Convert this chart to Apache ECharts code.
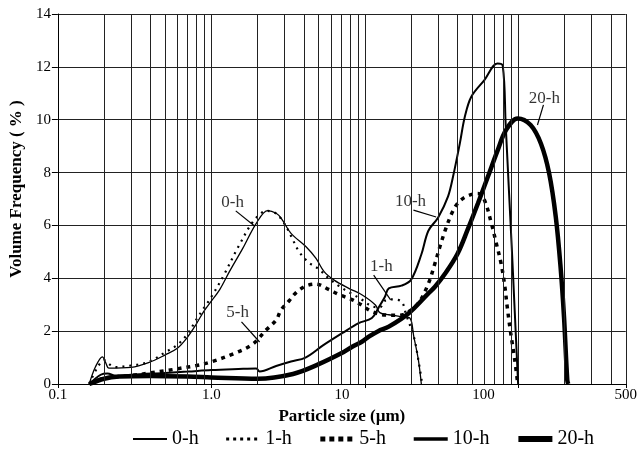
<!DOCTYPE html>
<html>
<head>
<meta charset="utf-8">
<script src="https://cdn.jsdelivr.net/npm/echarts@6/dist/echarts.min.js"></script>
<style>
  html, body { margin: 0; padding: 0; background: #fff; }
  #main { width: 640px; height: 449px; }
</style>
</head>
<body>
<div id="main"></div>
<script>
// particle size (um) and volume frequency (%)
var size0h = [0.16, 0.176, 0.195, 0.205, 0.215, 0.3, 0.39, 0.5, 0.6, 0.69, 0.79, 0.89, 0.99, 1.13, 1.31, 1.6, 1.96, 2.33, 2.64, 2.85, 3.3, 4.12, 4.8, 5.42, 6.3, 7.85, 9.6, 11.7, 12.5, 14.3, 17.3, 19.6, 20.8, 22.3, 23.3];
var freq0h = [0, 0.66, 1.03, 0.8, 0.6, 0.63, 0.81, 1.1, 1.35, 1.73, 2.23, 2.74, 3.11, 3.56, 4.25, 5.13, 6.08, 6.56, 6.46, 6.27, 5.7, 5.2, 4.75, 4.25, 3.93, 3.62, 3.37, 2.99, 2.7, 2.62, 2.55, 2.5, 1.8, 0.9, 0];

var size1h = [0.16, 0.18, 0.2, 0.22, 0.24, 0.3, 0.35, 0.4, 0.5, 0.6, 0.7, 0.8, 0.9, 1.0, 1.2, 1.5, 1.9, 2.3, 2.64, 3.0, 3.3, 3.73, 4.3, 5.0, 5.8, 6.8, 8.0, 9.5, 11.0, 12.5, 13.5, 15.0, 17.3, 18.6, 20.8, 22.3, 23.6];
var freq1h = [0, 0.6, 0.9, 0.72, 0.64, 0.7, 0.76, 0.86, 1.2, 1.48, 1.9, 2.45, 2.9, 3.3, 4.1, 5.2, 6.2, 6.55, 6.45, 6.05, 5.6, 5.0, 4.6, 4.35, 4.0, 3.7, 3.45, 3.2, 2.95, 2.9, 3.15, 3.2, 3.12, 2.6, 1.8, 0.9, 0];

var size5h = [0.16, 0.2, 0.3, 0.4, 0.5, 0.62, 0.8, 1.0, 1.4, 1.85, 2.27, 2.64, 2.84, 3.21, 3.55, 4.1, 4.8, 5.8, 6.8, 8.3, 9.5, 11, 13.6, 16.7, 18.6, 22.3, 25.9, 28.6, 30.8, 33.4, 36.8, 40.2, 45.6, 54.5, 60, 66.6, 71.7, 77, 81, 85, 89, 94, 99];
var freq5h = [0, 0.22, 0.32, 0.42, 0.5, 0.59, 0.7, 0.84, 1.15, 1.5, 2.04, 2.42, 2.8, 3.15, 3.45, 3.7, 3.78, 3.58, 3.38, 3.18, 2.99, 2.75, 2.61, 2.6, 2.68, 3.06, 3.8, 4.57, 5.2, 5.83, 6.46, 6.84, 7.09, 7.21, 6.96, 6.08, 5.33, 4.57, 3.81, 2.8, 1.93, 1.03, 0];

var size10h = [0.16, 0.19, 0.21, 0.24, 0.3, 0.5, 0.7, 1.0, 1.5, 1.96, 2.06, 2.64, 3.3, 4.1, 5.3, 7.1, 9.1, 11.1, 12.3, 13.5, 14.3, 17.3, 20, 23.3, 25.9, 30, 34.8, 37.5, 41.5, 44.7, 49.3, 60, 73, 79, 82.6, 86.4, 90.4, 94.5, 99.5];
var freq10h = [0, 0.35, 0.4, 0.3, 0.35, 0.42, 0.47, 0.53, 0.57, 0.59, 0.47, 0.68, 0.85, 1.0, 1.45, 1.92, 2.3, 2.5, 2.9, 3.3, 3.62, 3.72, 3.95, 4.9, 5.8, 6.3, 7.1, 7.85, 9.1, 10.1, 10.87, 11.5, 12.13, 12.05, 9.8, 7.5, 5.2, 2.8, 0];

var size20h = [0.16, 0.2, 0.25, 0.4, 0.7, 1.0, 2.0, 3.4, 5.0, 7.06, 8.26, 9.55, 10.6, 12.2, 14.3, 19.2, 25.9, 28.6, 33.4, 40.2, 46.6, 54.5, 63.2, 73.3, 83, 98.8, 120, 140, 158.5, 175, 188, 198, 208, 211];
var freq20h = [0, 0.2, 0.28, 0.3, 0.28, 0.25, 0.2, 0.38, 0.75, 1.17, 1.41, 1.6, 1.79, 2.0, 2.17, 2.67, 3.43, 3.68, 4.19, 4.94, 5.83, 6.84, 7.84, 8.85, 9.61, 10.05, 9.8, 9.1, 7.97, 6.33, 4.44, 2.55, 0.15, 0];

var seriesNames = ['0-h', '1-h', '5-h', '10-h', '20-h'];

// vertical grid lines of the log paper
var gridSizes = [0.2, 0.3, 0.4, 0.5, 0.6, 0.7, 0.8, 0.9, 2, 3, 4, 5, 6, 7, 8, 9, 20, 30, 40, 50, 60, 70, 80, 90, 200, 300, 400];

// curve labels: text position and the end points of their leader lines
var noteText = ['0-h', '5-h', '1-h', '10-h', '20-h'];
var noteSize = [1.375, 1.48, 12.8, 19.8, 147.7];
var noteFreq = [6.85, 2.69, 4.43, 6.89, 10.82];
var leaderFrom = [[1.44, 6.55], [1.57, 2.35], [11.4, 4.12], [20.7, 6.58], [145.5, 10.56]];
var leaderTo = [[1.91, 5.98], [2.06, 1.59], [14.7, 3.18], [29.1, 6.32], [133, 9.8]];

function pairs(xs, ys) {
  return xs.map(function (x, i) { return [x, ys[i]]; });
}

var chart = echarts.init(document.getElementById('main'));
var font = 'Liberation Serif';

function curve(name, xs, ys, width, type) {
  return {
    name: name,
    type: 'line',
    data: pairs(xs, ys),
    symbol: 'none',
    smooth: 0.35,
    lineStyle: { color: '#000', width: width, type: type },
    itemStyle: { color: '#000' },
    animation: false
  };
}

var option = {
  textStyle: { fontFamily: font, color: '#000' },
  grid: { left: 57, right: 10, top: 14, bottom: 65 },
  legend: {
    // the legend samples are drawn heavier than the curves in the figure
    data: [
      { name: '0-h', lineStyle: { width: 2 } },
      { name: '1-h', lineStyle: { width: 3, type: [3, 4] } },
      { name: '5-h', lineStyle: { width: 5, type: [5, 4] } },
      { name: '10-h', lineStyle: { width: 3.5 } },
      { name: '20-h', lineStyle: { width: 6 } }
    ],
    left: 127,
    top: 424,
    itemWidth: 34,
    itemHeight: 14,
    itemGap: 26,
    itemStyle: { opacity: 0 },
    textStyle: { fontFamily: font, fontSize: 20, color: '#000' }
  },
  xAxis: {
    type: 'log',
    logBase: 10,
    min: 0.1,
    max: 500,
    name: 'Particle size (µm)',
    nameLocation: 'middle',
    nameGap: 20,
    nameTextStyle: { fontFamily: font, fontSize: 17, fontWeight: 'bold', color: '#000' },
    axisLine: { lineStyle: { color: '#000', width: 1 } },
    axisTick: { show: true, length: 4, lineStyle: { color: '#000' } },
    splitLine: { show: true, lineStyle: { color: '#222', width: 1 } },
    axisLabel: {
      fontFamily: font,
      fontSize: 15,
      color: '#000',
      margin: 4,
      showMaxLabel: true,
      formatter: function (v) {
        var r = +Number(v).toPrecision(3);
        if (r === 1) return '1.0';
        if (r === 10) return '{l10|10}';
        if (r === 100) return '{l100|100}';
        return String(r);
      },
      rich: {
        l10: { fontFamily: font, fontSize: 15, color: '#000', padding: [0, 46, 0, 0] },
        l100: { fontFamily: font, fontSize: 15, color: '#000', padding: [0, 70, 0, 0] }
      }
    }
  },
  yAxis: {
    type: 'value',
    min: 0,
    max: 14,
    interval: 2,
    name: 'Volume Frequency ( % )',
    nameLocation: 'middle',
    nameGap: 31,
    nameTextStyle: { fontFamily: font, fontSize: 17, fontWeight: 'bold', color: '#000', padding: [0, 0, 0, 20] },
    axisLine: { show: true, lineStyle: { color: '#000', width: 1 } },
    axisTick: { show: true, length: 6, lineStyle: { color: '#000' } },
    splitLine: { show: true, lineStyle: { color: '#222', width: 1 } },
    axisLabel: { fontFamily: font, fontSize: 15, color: '#000', margin: 7 }
  },
  series: [
    curve('0-h', size0h, freq0h, 1.3, 'solid'),
    curve('1-h', size1h, freq1h, 2.2, [2, 5]),
    curve('5-h', size5h, freq5h, 3.5, [4, 5]),
    curve('10-h', size10h, freq10h, 2, 'solid'),
    curve('20-h', size20h, freq20h, 4.5, 'solid'),
    {
      name: 'notes',
      type: 'scatter',
      symbolSize: 0,
      silent: true,
      animation: false,
      data: noteText.map(function (t, i) { return [noteSize[i], noteFreq[i], t]; }),
      label: {
        show: true,
        position: 'inside',
        fontFamily: font,
        fontSize: 17,
        color: '#000',
        formatter: function (p) { return p.data[2]; }
      },
      markLine: {
        silent: true,
        animation: false,
        symbol: ['none', 'none'],
        label: { show: false },
        lineStyle: { color: '#000', width: 1.2, type: 'solid' },
        data: gridSizes.map(function (v) {
          return { xAxis: v, lineStyle: { color: '#222', width: 1, type: 'solid' } };
        }).concat(leaderFrom.map(function (a, i) {
          return [{ coord: a }, { coord: leaderTo[i] }];
        }))
      }
    }
  ]
};

chart.setOption(option);
</script>
</body>
</html>
